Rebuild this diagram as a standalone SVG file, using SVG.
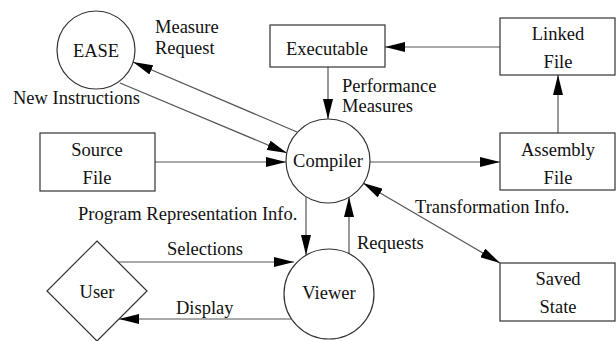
<svg xmlns="http://www.w3.org/2000/svg" width="616" height="341" viewBox="0 0 616 341">
<style>
text{font-family:"Liberation Serif","Times New Roman",serif;font-size:18.5px;fill:#111}
.c{text-anchor:middle}
.shape{fill:#fff;stroke:#333;stroke-width:1.2}
.conn{fill:none;stroke:#555;stroke-width:1.2}
</style>
<defs>
<marker id="ah" markerUnits="userSpaceOnUse" markerWidth="20" markerHeight="10" refX="20" refY="5" orient="auto-start-reverse" viewBox="0 0 20 10">
<path d="M0,0 L20,5 L0,10 Z" fill="#000"/>
</marker>
</defs>
<rect width="616" height="341" fill="#fff"/>
<g id="connectors">
<path class="conn" d="M500,47 L385,47" marker-end="url(#ah)"/>
<path class="conn" d="M328,67 L328,119" marker-end="url(#ah)"/>
<path class="conn" d="M558,133 L558,75" marker-end="url(#ah)"/>
<path class="conn" d="M370,162 L500,162" marker-end="url(#ah)"/>
<path class="conn" d="M155,162 L286,162" marker-end="url(#ah)"/>
<path class="conn" d="M297,132 L133,62" marker-end="url(#ah)"/>
<path class="conn" d="M120,83 L287,153" marker-end="url(#ah)"/>
<path class="conn" d="M306,197 L306,255" marker-end="url(#ah)"/>
<path class="conn" d="M349,254 L349,197" marker-end="url(#ah)"/>
<path class="conn" d="M118,262 L294,262" marker-end="url(#ah)"/>
<path class="conn" d="M292,319 L119,319" marker-end="url(#ah)"/>
<path class="conn" d="M363,183 L500,263" marker-start="url(#ah)" marker-end="url(#ah)"/>
<text x="155" y="33">Measure</text>
<text x="155" y="54">Request</text>
<text x="13" y="104">New Instructions</text>
<text x="342" y="92">Performance</text>
<text x="342" y="112">Measures</text>
<text x="78" y="220">Program Representation Info.</text>
<text x="415" y="213">Transformation Info.</text>
<text x="357" y="249">Requests</text>
<text x="205" y="255" class="c">Selections</text>
<text x="176" y="314">Display</text>
</g>
<g id="ease">
<circle class="shape" cx="96" cy="50" r="39"/>
<text x="96" y="57" class="c">EASE</text>
</g>
<g id="executable">
<rect class="shape" x="270" y="25" width="115" height="42"/>
<text x="327" y="55" class="c">Executable</text>
</g>
<g id="linked-file">
<rect class="shape" x="500" y="18" width="115" height="57"/>
<text x="558" y="40" class="c">Linked</text>
<text x="558" y="68" class="c">File</text>
</g>
<g id="source-file">
<rect class="shape" x="40" y="133" width="115" height="58"/>
<text x="97" y="156" class="c">Source</text>
<text x="97" y="184" class="c">File</text>
</g>
<g id="compiler">
<circle class="shape" cx="328" cy="161" r="42"/>
<text x="328" y="167" class="c">Compiler</text>
</g>
<g id="assembly-file">
<rect class="shape" x="500" y="133" width="115" height="57"/>
<text x="558" y="156" class="c">Assembly</text>
<text x="558" y="184" class="c">File</text>
</g>
<g id="saved-state">
<rect class="shape" x="500" y="263" width="115" height="58"/>
<text x="558" y="285" class="c">Saved</text>
<text x="558" y="313" class="c">State</text>
</g>
<g id="user">
<polygon class="shape" points="97,241 147,291 97,341 47,291"/>
<text x="97" y="298" class="c">User</text>
</g>
<g id="viewer">
<circle class="shape" cx="329" cy="294" r="45"/>
<text x="329" y="299" class="c">Viewer</text>
</g>
</svg>
